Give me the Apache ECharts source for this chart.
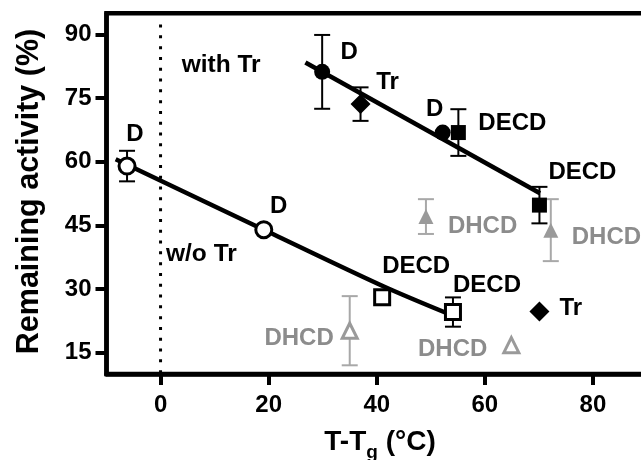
<!DOCTYPE html>
<html>
<head>
<meta charset="utf-8">
<script src="https://cdn.jsdelivr.net/npm/echarts@6/dist/echarts.min.js"></script>
<style>
  html, body { margin: 0; padding: 0; background: #fff; }
  #chart { width: 641px; height: 460px; overflow: hidden; }
</style>
</head>
<body>
<div id="chart"></div>
<script>
// Axis ticks
const xTicks = [0, 20, 40, 60, 80];
const yTicks = [15, 30, 45, 60, 75, 90];

// Without trehalose (open symbols): [T-Tg, remaining activity]
const woD = [[-6.2, 59.0], [19.1, 44.0]];
const woDErr = [3.6, null];
const woDLabels = ['D', 'D'];
const woDECD = [[41.0, 28.1], [54.1, 24.6]];
const woDECDErr = [null, 3.45];
const woDECDLabels = ['DECD', 'DECD'];
const woDHCD = [[35.0, 20.2], [64.9, 16.8]];
const woDHCDErr = [8.15, null];
const woDHCDLabels = ['DHCD', 'DHCD'];

// With trehalose (filled symbols)
const wD = [[29.9, 81.2], [52.2, 66.9]];
const wDErr = [8.7, null];
const wDLabels = ['D', 'D'];
const wTr = [[37.0, 73.6], [70.1, 24.7]];
const wTrErr = [3.95, null];
const wTrLabels = ['Tr', 'Tr'];
const wDECD = [[55.1, 66.9], [70.1, 49.8]];
const wDECDErr = [5.5, 4.3];
const wDECDLabels = ['DECD', 'DECD'];
const wDHCD = [[49.1, 47.1], [72.2, 43.9]];
const wDHCDErr = [4.1, 7.3];
const wDHCDLabels = ['DHCD', 'DHCD'];

// Trend lines
const fitWithout = [[-8.3, 60.6], [19.1, 44.0], [41.0, 30.8], [53.8, 23.9]];
const fitWith = [[26.8, 83.4], [70.2, 52.6]];

// Reference line at T = Tg
const zeroLine = [[0, 10.2], [0, 92.5]];

const FONT = '"Liberation Sans", Arial, Helvetica, sans-serif';
const GRAY_MARK = '#9a9a9a';
const GRAY_TEXT = '#8c8c8c';
const GRAY_BAR = '#a8a8a8';

// label placement relative to each symbol centre: [align, dx, dy]
const labelPlace = {
  woD: [['center', 8, -32], ['center', 15, -23]],
  woDECD: [['left', 0, -31], ['left', 0, -27]],
  woDHCD: [['right', -16, 8], ['right', -24, 4]],
  wD: [['center', 27, -19], ['center', -8, -23]],
  wTr: [['center', 27, -22], ['left', 20, -3]],
  wDECD: [['left', 20, -9], ['left', 9, -33]],
  wDHCD: [['left', 22, 10], ['left', 21, 7]]
};

function labelled(points, texts, key, color) {
  return points.map((p, i) => {
    const [align, dx, dy] = labelPlace[key][i];
    return {
      value: p,
      label: {
        show: true,
        formatter: texts[i],
        position: 'inside',
        align: align,
        verticalAlign: 'middle',
        offset: [dx, dy],
        color: color,
        fontFamily: FONT,
        fontWeight: 'bold',
        fontSize: 24
      }
    };
  });
}

function errorBars(points, errs, color, width) {
  const data = [];
  points.forEach((p, i) => { if (errs[i] != null) data.push([p[0], p[1], errs[i]]); });
  return {
    type: 'custom',
    data: data,
    encode: { x: 0, y: 1 },
    z: 3,
    silent: true,
    renderItem: function (params, api) {
      const x = api.value(0), y = api.value(1), e = api.value(2);
      const top = api.coord([x, y + e]);
      const bot = api.coord([x, y - e]);
      const hw = 8;
      const st = { stroke: color, lineWidth: width };
      return {
        type: 'group',
        children: [
          { type: 'line', shape: { x1: top[0], y1: top[1], x2: bot[0], y2: bot[1] }, style: st },
          { type: 'line', shape: { x1: top[0] - hw, y1: top[1], x2: top[0] + hw, y2: top[1] }, style: st },
          { type: 'line', shape: { x1: bot[0] - hw, y1: bot[1], x2: bot[0] + hw, y2: bot[1] }, style: st }
        ]
      };
    }
  };
}

function scatter(points, texts, key, symbol, size, item, labelColor) {
  return {
    type: 'scatter',
    data: labelled(points, texts, key, labelColor),
    symbol: symbol,
    symbolSize: size,
    itemStyle: item,
    z: 5,
    silent: true
  };
}

const openBlack = { color: '#fff', borderColor: '#000', borderWidth: 3, opacity: 1 };
const fillBlack = { color: '#000', opacity: 1 };
const openGray = { color: '#fff', borderColor: GRAY_MARK, borderWidth: 3, opacity: 1 };
const fillGray = { color: GRAY_MARK, opacity: 1 };

// measure text for the composed x-axis title
const ctx = document.createElement('canvas').getContext('2d');
function textWidth(str, size) {
  ctx.font = 'bold ' + size + 'px ' + FONT;
  return ctx.measureText(str).width;
}
const titleMain = 28, titleSub = 19;
const partA = 'T-T', partB = 'g', partC = ' (°C)';
const wA = textWidth(partA, titleMain), wB = textWidth(partB, titleSub), wC = textWidth(partC, titleMain);
const titleLeft = 380 - (wA + wB + wC) / 2;
const titleY = 442;

const chart = echarts.init(document.getElementById('chart'), null, { renderer: 'canvas' });

const axisText = { fontFamily: FONT, fontWeight: 'bold', fontSize: 24, color: '#000' };

chart.setOption({
  animation: false,
  backgroundColor: '#fff',
  grid: {
    left: 106.5, top: 13.3, right: -6, bottom: 86,
    show: true, borderColor: '#000', borderWidth: 4.5,
    outerBoundsMode: 'none'
  },
  xAxis: {
    type: 'value', min: -10, max: 90,
    axisLine: { show: true, onZero: false, lineStyle: { color: '#000', width: 4.5 } },
    axisTick: { show: true, customValues: xTicks, length: 11, lineStyle: { color: '#000', width: 4 } },
    axisLabel: Object.assign({ customValues: xTicks, margin: 19 }, axisText),
    splitLine: { show: false }
  },
  yAxis: {
    type: 'value', min: 10, max: 95,
    axisLine: { show: true, onZero: false, lineStyle: { color: '#000', width: 4.5 } },
    axisTick: { show: true, customValues: yTicks, length: 11, lineStyle: { color: '#000', width: 4 } },
    axisLabel: Object.assign({ customValues: yTicks, margin: 15 }, axisText),
    splitLine: { show: false }
  },
  graphic: [
    {
      type: 'text', x: 30, y: 191.5, rotation: Math.PI / 2,
      style: { text: 'Remaining activity (%)', font: 'bold 30.5px ' + FONT, fill: '#000', align: 'center', verticalAlign: 'middle' }
    },
    {
      type: 'text', x: titleLeft, y: titleY,
      style: { text: partA, font: 'bold ' + titleMain + 'px ' + FONT, fill: '#000', align: 'left', verticalAlign: 'middle' }
    },
    {
      type: 'text', x: titleLeft + wA, y: titleY + 11,
      style: { text: partB, font: 'bold ' + titleSub + 'px ' + FONT, fill: '#000', align: 'left', verticalAlign: 'middle' }
    },
    {
      type: 'text', x: titleLeft + wA + wB, y: titleY,
      style: { text: partC, font: 'bold ' + titleMain + 'px ' + FONT, fill: '#000', align: 'left', verticalAlign: 'middle' }
    },
    {
      type: 'text', x: 181.7, y: 65,
      style: { text: 'with Tr', font: 'bold 24.5px ' + FONT, fill: '#000', align: 'left', verticalAlign: 'middle' }
    },
    {
      type: 'text', x: 166, y: 254,
      style: { text: 'w/o Tr', font: 'bold 24.5px ' + FONT, fill: '#000', align: 'left', verticalAlign: 'middle' }
    }
  ],
  series: [
    {
      type: 'line', data: zeroLine, symbol: 'none', z: 1, silent: true,
      lineStyle: { color: '#000', width: 3, type: [3, 7.8] }
    },
    {
      type: 'line', data: fitWithout, symbol: 'none', smooth: 0.3, z: 2, silent: true,
      lineStyle: { color: '#000', width: 4.5 }
    },
    {
      type: 'line', data: fitWith, symbol: 'none', z: 2, silent: true,
      lineStyle: { color: '#000', width: 4.5 }
    },
    errorBars(woD, woDErr, '#000', 2),
    errorBars(woDECD, woDECDErr, '#000', 2),
    errorBars(wD, wDErr, '#000', 2),
    errorBars(wTr, wTrErr, '#000', 2),
    errorBars(wDECD, wDECDErr, '#000', 2),
    errorBars(woDHCD, woDHCDErr, GRAY_BAR, 2),
    errorBars(wDHCD, wDHCDErr, GRAY_BAR, 2),
    scatter(woD, woDLabels, 'woD', 'circle', 16, openBlack, '#000'),
    scatter(woDECD, woDECDLabels, 'woDECD', 'rect', 15, openBlack, '#000'),
    scatter(woDHCD, woDHCDLabels, 'woDHCD', 'triangle', 15, openGray, GRAY_TEXT),
    scatter(wD, wDLabels, 'wD', 'circle', 16, fillBlack, '#000'),
    scatter(wTr, wTrLabels, 'wTr', 'diamond', 20, fillBlack, '#000'),
    scatter(wDECD, wDECDLabels, 'wDECD', 'rect', 15, fillBlack, '#000'),
    scatter(wDHCD, wDHCDLabels, 'wDHCD', 'triangle', 15, fillGray, GRAY_TEXT)
  ]
});
</script>
</body>
</html>
